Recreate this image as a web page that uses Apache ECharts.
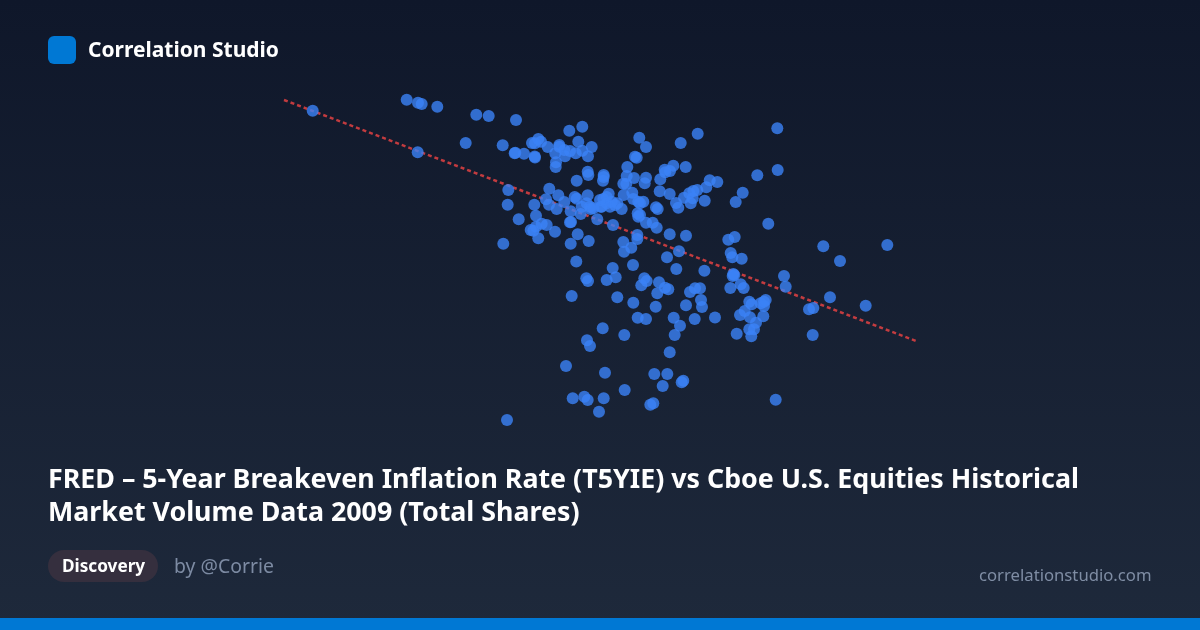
<!DOCTYPE html>
<html><head><meta charset="utf-8">
<style>html,body{margin:0;padding:0;width:1200px;height:630px;overflow:hidden;background:#0f172a}#c{width:1200px;height:630px}</style>
<script src="https://cdn.jsdelivr.net/npm/echarts@6/dist/echarts.min.js"></script>
</head><body><div id="c"></div>
<script>
const brandName = "Correlation Studio";
const titleLines = ["FRED – 5-Year Breakeven Inflation Rate (T5YIE) vs Cboe U.S. Equities Historical", "Market Volume Data 2009 (Total Shares)"];
const tagLabel = "Discovery";
const authorLabel = "by @Corrie";
const siteLabel = "correlationstudio.com";
const trendPoints = [[24,330],[656,89]];
const scatterPoints = [
[52.7,319.3],[146.7,330.3],[158,327.3],[161.7,326],[177.3,323.3],[216.3,315.3],[228.7,314],[256,310],[205.7,287],[157.7,277.7],
[242.7,284.7],[309.3,299.3],[322.3,303.3],[255.3,277.3],[254.7,276.7],[264,276.3],[274.7,273.5],[275,272.5],[272,287],[275,286.7],
[278.3,291],[281,288.3],[287.7,283],[299.3,285],[299.3,283.3],[295.3,276.7],[296,267.7],[295.7,263],[305,273.7],[304.3,280],
[310,279],[315.7,276.7],[318.3,288.3],[322.3,279.3],[328,273.7],[331.7,283],[327.7,258.3],[328.3,255],[316.7,249.3],[248.3,240],
[289.3,241.3],[247.7,225.3],[286,230.7],[289,225.3],[298.3,234.7],[304.3,228],[274.3,225.3],[296.7,221],[276,214.3],[258.7,210.7],
[310.7,218.7],[314.7,233],[316.7,231.3],[327.7,234.7],[320.7,216],[321.7,223.3],[326.7,226.7],[330,223.3],[330.7,221],[337.3,210.7],
[340,230],[340.7,223.3],[310,207.7],[311,208],[281.7,206.3],[286.7,205],[276,203.3],[270.7,200],[273.3,199.3],[295,198.3],
[278.3,191.7],[317.7,195.7],[310.7,186.3],[328.7,189],[243.3,186.3],[316.3,168.5],[343.7,255],[343.7,253],[343,249.3],[379.3,292.3],
[386,283],[420.7,287],[437.7,296.3],[517.3,301.7],[517.7,260],[497.3,254.7],[482.7,237.3],[475.7,228],[508.3,206.3],[375,273.3],
[376.7,272.3],[367.3,263],[386,252.3],[374,252],[366.7,254],[384.7,246.7],[363.3,246.3],[366.3,246],[404.7,260.3],[413.3,264.3],
[410,259],[405.3,257.7],[425.7,263],[400.3,250.7],[399.7,238.7],[409.7,236],[363.7,235],[372.3,237.3],[373.3,231],[378.3,228.3],
[383.3,228.3],[380,226.7],[348.7,236.3],[346.7,233],[343.3,231],[333.3,221.7],[341.7,223.3],[346.7,226.7],[351.7,228.3],[350,223.3],
[355,225],[357.3,226.7],[361.7,221],[353,205],[377.7,216.7],[380,215],[378.3,213.3],[396,222.7],[397.7,221],[416,227],
[418.3,222.3],[424,232.3],[429.3,236.7],[433.3,239],[437.3,240],[430.7,226.7],[432.7,231.7],[446.3,242.7],[449.7,249.7],[457.3,248],
[444.7,229.3],[386,207.3],[392.7,207.3],[396.7,202.3],[377.3,195],[377.3,191],[409.7,195.7],[426,194.3],[363.3,188],[371.3,182.3],
[364,178.3],[419,178.7],[407,172.7],[468.3,190.3],[474.7,193],[470.7,177],[472.3,172.7],[481.7,171.3],[352.7,162],[373,165],
[416.3,161],[444.4,159.3],[326.3,151.7],[328,149],[346.7,150],[355.7,152.7],[384.3,151.7],[386.7,149],[381.3,144.7],[399,147.7],
[405,142.3],[408.3,140.7],[397.3,136.7],[311.7,134],[357.3,132.7],[373.3,127.3],[395.7,123.3],[430,138],[435,141.7],[440,141.7],
[426,124.7],[441,130],[442,123],[470.3,142],[473.3,156],[472.7,154],[474.3,155],[377.7,112.3],[386,111],[413.7,112.3],
[420,104.3],[434.7,111],[455,112.5],[342.7,101.7],[364.3,95],[414.7,95],[327,89.7],[330,84],[409.7,77.7],[306,64],
[345,57.3],[394.3,56],[407.3,56],[423.3,49.3],[421.7,47.7],[402.7,44],[364.7,40],[312.7,31.7],[324.3,33.3],[327.7,30],
[343.7,31.7],[339,18.3],[393.3,26.7],[390.3,25.3],[247,10],[480.7,145.7],[483.7,142],[524,154],[525.7,143.3],[563.3,183.7],
[580,169],[627.3,185],[570,132.7],[605.7,124.3],[549,120.7],[553.3,122],[552.7,95],[515.7,30.3],[489.3,128.3],[491.7,125.7],
[484.7,119],[480,115],[490,112.7],[503.3,113.7],[496,107.3],[505.7,130],[504,128.3],[500.7,126.7],[504,124],[489.3,100.7],
[494,100.7],[491.3,93.7],[476.7,96.3]
];
const fontStack = '"Noto Sans", sans-serif';
const chart = echarts.init(document.getElementById('c'), null, {width:1200, height:630});
function label(x, y, text, size, weight, fill){
  return {type:'text', x:x, y:y, z:10, style:{text:text, x:0, y:0, fontFamily:fontStack, fontSize:size, fontWeight:weight, fill:fill, verticalAlign:'middle'}};
}
chart.setOption({
  animation:false,
  backgroundColor:{type:'linear',x:0,y:0,x2:0,y2:1,colorStops:[{offset:0,color:'#0f172a'},{offset:1,color:'#1e293b'}]},
  grid:{left:260,top:90,width:680,height:340},
  xAxis:{type:'value',min:0,max:680,show:false},
  yAxis:{type:'value',min:0,max:340,show:false},
  series:[
    {type:'line',data:trendPoints,showSymbol:false,z:2,silent:true,
     lineStyle:{color:'#ef4444',width:2.5,type:[4,3],opacity:0.8}},
    {type:'scatter',data:scatterPoints,symbolSize:12,z:3,
     itemStyle:{color:'#3b82f6',opacity:0.8}}
  ],
  graphic:[
    {type:'rect',shape:{x:48,y:36,width:28,height:28,r:6},style:{fill:'#0078d4'},z:10},
    label(88,51.5,brandName,21,700,'#ffffff'),
    label(48,480.5,titleLines[0],26.8,700,'#ffffff'),
    label(48,513.5,titleLines[1],26.8,700,'#ffffff'),
    {type:'rect',shape:{x:48,y:550,width:110,height:32,r:16},style:{fill:'#352f3e'},z:10},
    label(62,567.5,tagLabel,17.2,700,'#ffffff'),
    label(174,567,authorLabel,19.4,400,'#7d8ba3'),
    label(979,576,siteLabel,16.7,400,'#7f8da4'),
    {type:'rect',shape:{x:0,y:618,width:1200,height:12},style:{fill:'#0078d4'},z:10}
  ]
});
</script></body></html>
